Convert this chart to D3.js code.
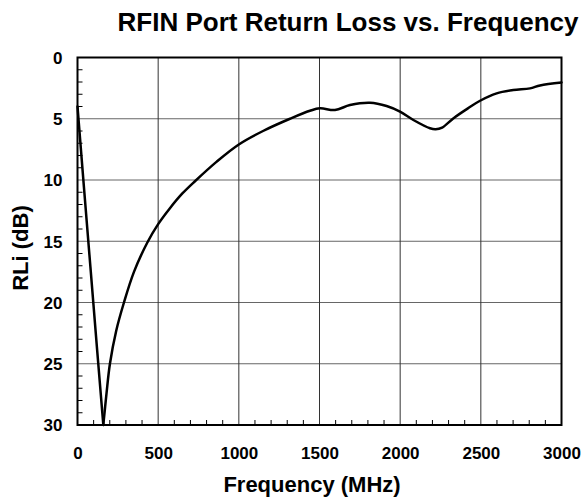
<!DOCTYPE html>
<html><head><meta charset="utf-8">
<script src="https://cdn.jsdelivr.net/npm/d3@7"></script>
<style>body{margin:0;background:#fff}svg{display:block}svg text{font-family:Arial,"Liberation Sans",sans-serif !important;font-weight:bold !important;fill:#000}</style>
</head><body><div id="chart"></div>
<script>
const freqMHz = [0, 40, 80, 120, 160, 180, 201, 240, 288, 350, 433, 500, 573, 650, 728, 863, 1000, 1150, 1317, 1441, 1503, 1596, 1689, 1813, 1916, 1999, 2082, 2185, 2220, 2260, 2329, 2420, 2495, 2598, 2701, 2805, 2867, 3000];
const rlDB =    [4.0, 10.6, 17.1, 23.6, 30, 27.4, 25, 22.3, 20, 17.5, 15.1, 13.6, 12.3, 11.1, 10.1, 8.5, 7.1, 6.0, 5.0, 4.35, 4.15, 4.29, 3.88, 3.69, 3.96, 4.42, 5.1, 5.78, 5.86, 5.72, 4.97, 4.15, 3.53, 2.93, 2.66, 2.52, 2.28, 2.04];
const xTicks = [0, 500, 1000, 1500, 2000, 2500, 3000];
const yTicks = [0, 5, 10, 15, 20, 25, 30];

const W = 584, H = 504;
const m = {l: 77.5, r: 22.5, t: 57.5, b: 79};
const svg = d3.select("#chart").append("svg").attr("width", W).attr("height", H);
const x = d3.scaleLinear().domain([0, 3000]).range([m.l, W - m.r]);
const y = d3.scaleLinear().domain([0, 30]).range([m.t, H - m.b]);

// grid
svg.append("g").selectAll("line").data(yTicks.slice(1, -1)).join("line")
  .attr("x1", m.l).attr("x2", W - m.r).attr("y1", d => y(d)).attr("y2", d => y(d))
  .attr("stroke", "#666").attr("stroke-width", 1);
svg.append("g").selectAll("line").data(xTicks.slice(1, -1)).join("line")
  .attr("y1", m.t).attr("y2", H - m.b).attr("x1", d => x(d)).attr("x2", d => x(d))
  .attr("stroke", "#333").attr("stroke-width", 1);

// minor ticks (inside)
const yMinor = d3.range(1, 30).filter(d => d % 5 !== 0);
svg.append("g").selectAll("line").data(yMinor).join("line")
  .attr("x1", m.l).attr("x2", m.l + 5).attr("y1", d => y(d)).attr("y2", d => y(d))
  .attr("stroke", "#000").attr("stroke-width", 1);
const xMinor = d3.range(100, 3000, 100).filter(d => d % 500 !== 0);
svg.append("g").selectAll("line").data(xMinor).join("line")
  .attr("y1", H - m.b).attr("y2", H - m.b - 5).attr("x1", d => x(d)).attr("x2", d => x(d))
  .attr("stroke", "#000").attr("stroke-width", 1);

// frame
svg.append("rect").attr("x", m.l).attr("y", m.t).attr("width", W - m.l - m.r).attr("height", H - m.t - m.b)
  .attr("fill", "none").attr("stroke", "#000").attr("stroke-width", 2);

// axes labels using d3 axes
const yAxis = svg.append("g").attr("transform", `translate(${m.l},0)`)
  .call(d3.axisLeft(y).tickValues(yTicks).tickFormat(d3.format("d")).tickSize(0).tickPadding(15));
yAxis.attr("font-size", 17).attr("font-family", null);
yAxis.select(".domain").remove();
yAxis.selectAll("text").attr("dy", "0.35em");

const xAxis = svg.append("g").attr("transform", `translate(0,${H - m.b})`)
  .call(d3.axisBottom(x).tickValues(xTicks).tickFormat(d3.format("d")).tickSize(0).tickPadding(0));
xAxis.attr("font-size", 17).attr("font-family", null);
xAxis.select(".domain").remove();
xAxis.selectAll("text").attr("y", 34).attr("dy", null);

// curve: steep falling edge straight, rest smooth
const pts = freqMHz.map((f, i) => [f, rlDB[i]]);
const iMin = rlDB.indexOf(d3.max(rlDB));
const lineLin = d3.line().x(d => x(d[0])).y(d => y(d[1]));
const lineSmooth = d3.line().x(d => x(d[0])).y(d => y(d[1])).curve(d3.curveCatmullRom.alpha(0.5));
svg.append("path").attr("d", lineLin(pts.slice(0, iMin + 1)))
  .attr("fill", "none").attr("stroke", "#000").attr("stroke-width", 2.5).attr("stroke-linejoin", "round").attr("stroke-linecap", "round");
svg.append("path").attr("d", lineSmooth(pts.slice(iMin)))
  .attr("fill", "none").attr("stroke", "#000").attr("stroke-width", 2.5).attr("stroke-linejoin", "round").attr("stroke-linecap", "round");

// titles
svg.append("text").attr("x", 348).attr("y", 31).attr("text-anchor", "middle")
  .attr("font-size", 26).text("RFIN Port Return Loss vs. Frequency");
svg.append("text").attr("x", 312).attr("y", 492).attr("text-anchor", "middle")
  .attr("font-size", 22).text("Frequency (MHz)");
svg.append("text").attr("transform", "translate(28,248) rotate(-90)").attr("text-anchor", "middle")
  .attr("font-size", 22).text("RLi (dB)");
</script></body></html>
